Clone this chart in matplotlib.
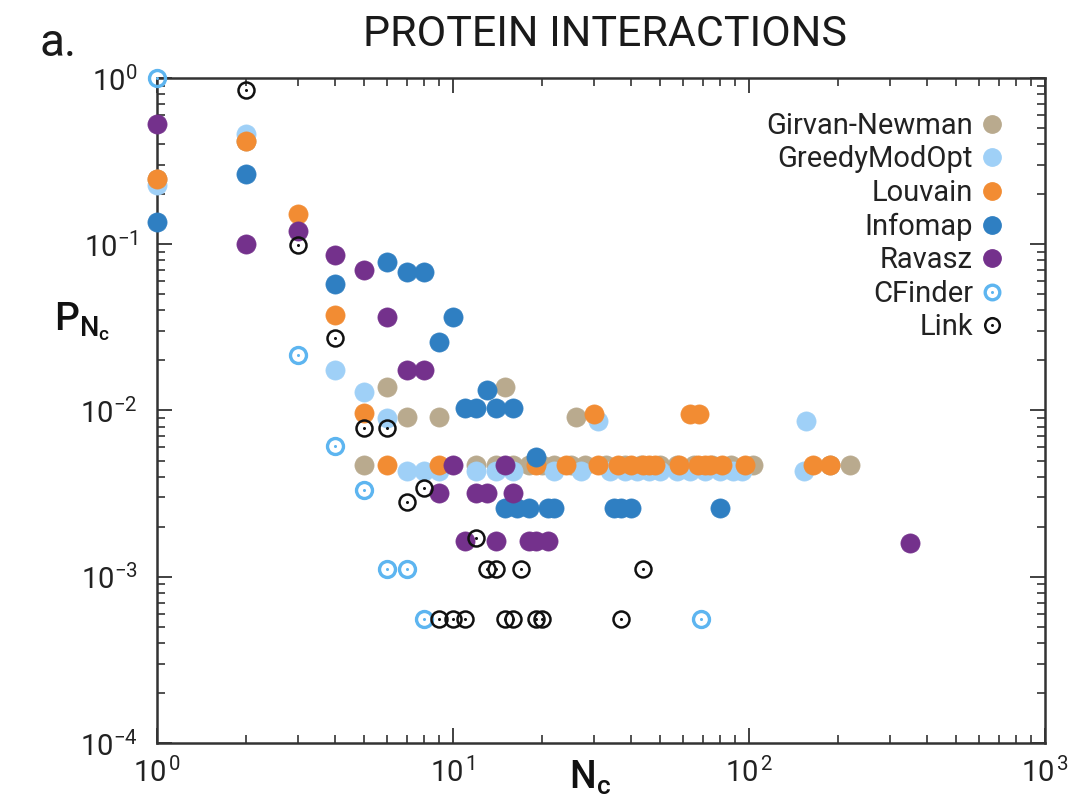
import math
import matplotlib
matplotlib.use("Agg")
import matplotlib.pyplot as plt
from matplotlib.lines import Line2D
from matplotlib.legend_handler import HandlerTuple
from matplotlib.ticker import LogLocator, FuncFormatter, NullFormatter

plt.rcParams['font.family'] = ['Roboto', 'DejaVu Sans']
plt.rcParams['mathtext.fontset'] = 'custom'
plt.rcParams['mathtext.rm'] = 'Roboto'
plt.rcParams['mathtext.it'] = 'Roboto:italic'
plt.rcParams['mathtext.bf'] = 'Roboto:medium'

# ---------------- data ----------------
gn_x = [1, 2, 6, 15, 7, 9, 26,
        5, 12, 14, 16, 18, 20, 22, 25, 28, 33, 38, 43, 50, 57, 65, 75, 87, 103, 188, 219]
gn_y = [0.247, 0.418, 0.0138, 0.0138, 0.0092, 0.0092, 0.0092,
        0.0047, 0.0047, 0.0047, 0.0047, 0.0047, 0.0047, 0.0047, 0.0047, 0.0047, 0.0047,
        0.0047, 0.0047, 0.0047, 0.0047, 0.0047, 0.0047, 0.0047, 0.0047, 0.0047, 0.0047]

gmo_x = [1, 2, 4, 5, 6, 31, 156,
         7, 8, 9, 12, 14, 16, 22, 27, 34, 38, 42, 46, 50, 57, 63, 71, 80, 88, 95, 153]
gmo_y = [0.227, 0.46, 0.0175, 0.013, 0.009, 0.0087, 0.0087,
         0.00434, 0.00434, 0.00434, 0.00434, 0.00434, 0.00434, 0.00434, 0.00434, 0.00434,
         0.00434, 0.00434, 0.00434, 0.00434, 0.00434, 0.00434, 0.00434, 0.00434, 0.00434,
         0.00434, 0.00434]

louv_x = [1, 2, 3, 4, 5, 30, 63, 68,
          6, 9, 19, 24, 31, 36, 40, 44, 46, 48, 58, 67, 71, 74, 81, 97, 164, 188]
louv_y = [0.247, 0.418, 0.152, 0.0375, 0.0096, 0.0095, 0.0095, 0.0095,
          0.0047, 0.0047, 0.0047, 0.0047, 0.0047, 0.0047, 0.0047, 0.0047, 0.0047,
          0.0047, 0.0047, 0.0047, 0.0047, 0.0047, 0.0047, 0.0047, 0.0047, 0.0047]

info_x = [1, 2, 4, 6, 7, 8, 9, 10, 13, 11, 12, 14, 16, 19,
          15, 16.5, 18, 21, 22, 35, 37, 40, 80]
info_y = [0.136, 0.265, 0.0574, 0.0779, 0.0678, 0.0678, 0.0259, 0.0364, 0.0133,
          0.0103, 0.0103, 0.0103, 0.0103, 0.00527,
          0.00258, 0.00258, 0.00258, 0.00258, 0.00258, 0.00258, 0.00258, 0.00258, 0.00258]

rav_x = [1, 2, 3, 4, 5, 6, 7, 8, 10, 15, 9, 12, 13, 16, 11, 14, 18, 19, 21, 350]
rav_y = [0.529, 0.1, 0.12, 0.086, 0.070, 0.0367, 0.0175, 0.0175, 0.0047, 0.0047,
         0.0032, 0.0032, 0.0032, 0.0032, 0.00163, 0.00163, 0.00163, 0.00163, 0.00163, 0.00159]

cf_x = [1, 3, 4, 5, 6, 7, 8, 69]
cf_y = [1.0, 0.0216, 0.00612, 0.00332, 0.00111, 0.00111, 0.000555, 0.000555]

link_x = [2, 3, 4, 5, 6, 7, 8, 12, 13, 14, 17, 44,
          9, 10, 11, 15, 16, 19, 20, 37]
link_y = [0.847, 0.099, 0.0272, 0.0079, 0.0079, 0.00283, 0.0034, 0.0017,
          0.00112, 0.00112, 0.00112, 0.00112,
          0.000555, 0.000555, 0.000555, 0.000555, 0.000555, 0.000555, 0.000555, 0.000555]

labels = ['Girvan-Newman', 'GreedyModOpt', 'Louvain', 'Infomap', 'Ravasz', 'CFinder', 'Link']
colors = ['#b9aa8e', '#9fd0f7', '#f28c33', '#2f7fc2', '#74318c', '#5db5f0', '#111111']

# ---------------- figure ----------------
fig = plt.figure(figsize=(10.84, 8), dpi=100)
ax = fig.add_axes([157 / 1084, 1 - 743 / 800, (1045 - 157) / 1084, (743 - 78) / 800])
ax.set_xscale('log')
ax.set_yscale('log')
ax.set_xlim(1, 1000)
ax.set_ylim(1e-4, 1)

ms = 13.8
filled = [(gn_x, gn_y), (gmo_x, gmo_y), (louv_x, louv_y), (info_x, info_y), (rav_x, rav_y)]
handles = []
for (xs, ys), c, lab in zip(filled, colors[:5], labels[:5]):
    ax.plot(xs, ys, 'o', ms=ms, mfc=c, mec=c, mew=0.5, ls='none', clip_on=False, zorder=3)
    handles.append(Line2D([], [], marker='o', ls='none', ms=12.5, mfc=c, mec=c))

for xs, ys, c, mew in [(cf_x, cf_y, colors[5], 2.4), (link_x, link_y, colors[6], 1.8)]:
    ax.plot(xs, ys, 'o', ms=11.5, mfc='none', mec=c, mew=mew, ls='none', clip_on=False, zorder=4)
    ax.plot(xs, ys, 'o', ms=2.2, mfc=c, mec=c, mew=0, ls='none', clip_on=False, zorder=4)
    ring = Line2D([], [], marker='o', ls='none', ms=10.5, mfc='none', mec=c, mew=mew)
    dot = Line2D([], [], marker='o', ls='none', ms=2.2, mfc=c, mec=c, mew=0)
    handles.append((ring, dot))

leg = ax.legend(handles, labels, loc='upper right', bbox_to_anchor=(0.955, 0.949),
                markerfirst=False, frameon=False, fontsize=21, labelspacing=0.19,
                handlelength=0.9, handletextpad=0.2, borderaxespad=0.0, borderpad=0.0,
                handler_map={tuple: HandlerTuple(ndivide=1, pad=0)})
for t in leg.get_texts():
    t.set_color('#222222')

# ticks
for axis in (ax.xaxis, ax.yaxis):
    axis.set_major_locator(LogLocator(base=10, numticks=20))
    axis.set_minor_locator(LogLocator(base=10, subs=range(2, 10), numticks=20))
    axis.set_minor_formatter(NullFormatter())
xfmt = FuncFormatter(lambda v, p: r'$\mathregular{10^{\,%d}}$' % round(math.log10(v)))
yfmt = FuncFormatter(lambda v, p: r'$\mathregular{10^{%d}}$' % round(math.log10(v)))
ax.xaxis.set_major_formatter(xfmt)
ax.yaxis.set_major_formatter(yfmt)
ax.tick_params(which='both', direction='in', top=True, right=True, colors='#333333',
               labelcolor='#222222', labelsize=21)
ax.tick_params(which='major', length=11, width=1.3)
ax.tick_params(which='minor', length=6, width=1.2)
ax.tick_params(axis='x', pad=10)
ax.tick_params(axis='y', pad=14)
for s in ax.spines.values():
    s.set_color('#333333')
    s.set_linewidth(1.8)

# texts
fig.text(605 / 1084, 1 - 35 / 800, 'PROTEIN INTERACTIONS', ha='center', va='center',
         fontsize=31, color='#1a1a1a')
fig.text(40 / 1084, 1 - 43 / 800, 'a.', ha='left', va='center', fontsize=33, color='#1a1a1a')
fig.text(590 / 1084, 1 - 778 / 800, r'$\mathbf{N_{c}}$', ha='center', va='center',
         fontsize=27, color='#111111')
fig.text(82 / 1084, 1 - 322 / 800, r'$\mathbf{P_{N_{c}}}$', ha='center', va='center',
         fontsize=28, color='#111111')

fig.savefig('out.png', dpi=100)
